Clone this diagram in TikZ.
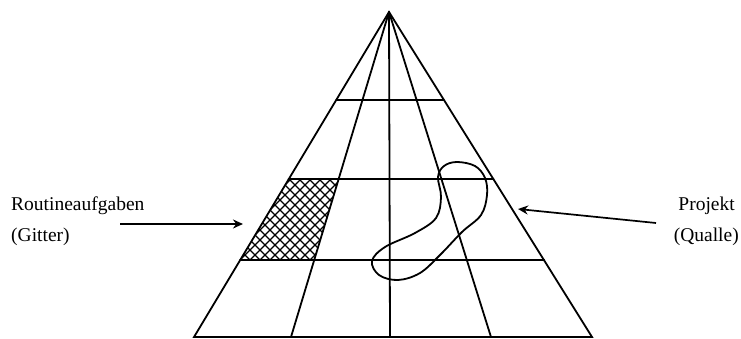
\documentclass[tikz,border=0pt]{standalone}
\usepackage{fontspec}
\setmainfont{Liberation Serif}
\usetikzlibrary{calc,arrows.meta}
\tikzset{
  edge/.style={line width=1.8pt, line cap=round},
  hatch/.style={line width=1.3pt},
  lbl/.style={font=\fontsize{19.5}{22}\selectfont, inner sep=0pt},
  pointer/.style={line width=1.7pt, -{Stealth[length=10pt,width=9pt]}}
}
\begin{document}
\begin{tikzpicture}[x=1pt,y=-1pt]
\useasboundingbox (0,0) rectangle (741,339);
\coordinate (A) at (389,12);
\coordinate (B0) at (194,337);
\coordinate (B1) at (291,337);
\coordinate (B2) at (390,337);
\coordinate (B3) at (491,337);
\coordinate (B4) at (592,337);
% hatched region
\coordinate (H1) at ($(A)!0.515!(B0)$);
\coordinate (H2) at ($(A)!0.515!(B1)$);
\coordinate (H3) at ($(A)!0.764!(B1)$);
\coordinate (H4) at ($(A)!0.764!(B0)$);
\begin{scope}
\clip (H1) -- (H2) -- (H3) -- (H4) -- cycle;
\foreach \i in {0,...,30} {
  \draw[hatch] (140+\i*10,170) -- ++(110,110);
  \draw[hatch] (140+\i*10,170) -- ++(-110,110);
}
\end{scope}
% pyramid
\draw[edge] (B0) -- (A) -- (B4) -- cycle;
\draw[edge] (A) -- (B1);
\draw[edge] (A) -- (B2);
\draw[edge] (A) -- (B3);
\foreach \t in {0.27,0.515,0.764} {
  \draw[edge] ($(A)!\t!(B0)$) -- ($(A)!\t!(B4)$);
}
% jellyfish
\draw[line width=1.8pt] plot[smooth cycle, tension=0.6] coordinates {
 (457,162) (475,166) (485,178) (487,195) (481,215) (462,232) (440,255)
 (420,273) (398,280) (379,275) (372,261) (385,247) (415,233) (436,218)
 (441,197) (438,177) (444,166)};
% labels
\node[lbl, anchor=base west] (r1) at (11,211) {Routineaufgaben};
\node[lbl, anchor=base west] (r2) at (11,241) {(Gitter)};
\node[lbl, anchor=base east] (p1) at (735,211) {Projekt};
\node[lbl, anchor=base east] (p2) at (739,241) {(Qualle)};
\coordinate (la) at (120,224);
\coordinate (lt) at (243,224);
\coordinate (ra) at (656,223);
\coordinate (rt) at (518,209);
\draw[pointer] (la) -- (lt);
\draw[pointer] (ra) -- (rt);
\end{tikzpicture}
\end{document}
